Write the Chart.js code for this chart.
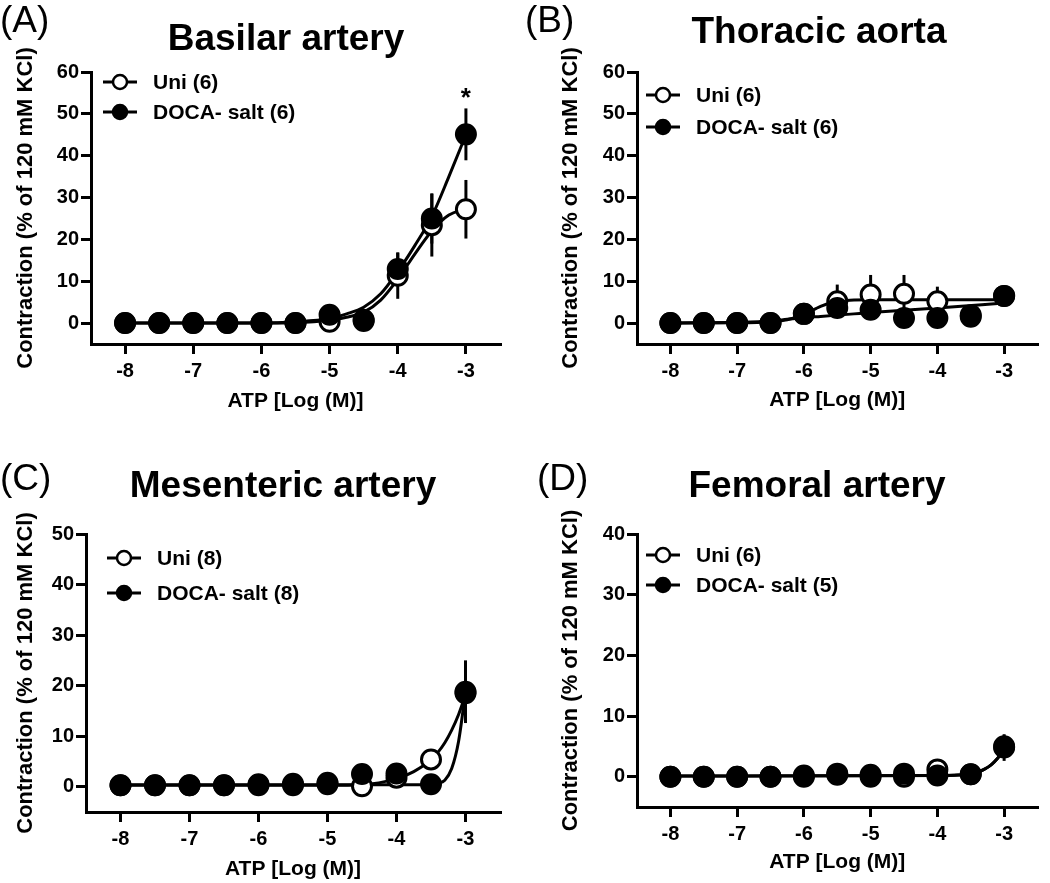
<!DOCTYPE html>
<html>
<head>
<meta charset="utf-8">
<script src="https://cdn.jsdelivr.net/npm/chart.js@4.4.1/dist/chart.umd.min.js"></script>
<style>
  body { margin: 0; background: #fff; }
  #wrap { position: relative; width: 1050px; height: 883px; }
  canvas { position: absolute; }
</style>
</head>
<body>
<div id="wrap">
  <canvas id="cA" width="525" height="430" style="left:0;top:0"></canvas>
  <canvas id="cB" width="525" height="430" style="left:525px;top:0"></canvas>
  <canvas id="cC" width="525" height="453" style="left:0;top:430px"></canvas>
  <canvas id="cD" width="525" height="453" style="left:525px;top:430px"></canvas>
</div>
<script>
// ATP concentrations, log(M)
const doses = [-8, -7.5, -7, -6.5, -6, -5.5, -5, -4.5, -4, -3.5, -3];
const xTicks = [-8, -7, -6, -5, -4, -3];

// (A) Basilar artery
const uniA = [0, 0, 0, 0, 0, 0, 0.3, 0.5, 11.3, 23.4, 27.2];
const uniAErr = [0, 0, 0, 0, 0, 0, 0.5, 0.5, 5.5, 7.5, 7];
const docaA = [0, 0, 0, 0, 0, 0, 2.0, 0.8, 12.9, 25.0, 45.1];
const docaAErr = [0, 0, 0, 0, 0, 0, 0.5, 0.5, 4.0, 6.0, 6.2];
const fitXA = [-8, -6, -5.5, -5, -4.75, -4.5, -4.25, -4, -3.75, -3.5, -3.25, -3];
const fitUniA = [0, 0, 0.1, 0.7, 1.4, 2.6, 5.5, 10.5, 16.5, 22, 25.8, 27.3];
const fitDocaA = [0, 0, 0.3, 1.1, 2.2, 3.8, 7, 12.3, 18.5, 25.5, 35, 45];

// (B) Thoracic aorta
const uniB = [0, 0, 0, 0, 2.2, 5.2, 6.8, 7.0, 5.2, 1.9, 6.5];
const uniBErr = [0, 0, 0, 0, 0.5, 4, 4.7, 4.5, 3.5, 0.5, 1];
const docaB = [0, 0, 0, 0, 2.2, 3.6, 3.2, 1.2, 1.2, 1.5, 6.5];
const docaBErr = [0, 0, 0, 0, 0.5, 2, 1.5, 0.5, 0.5, 0.5, 1.3];
const fitXB = [-8, -7, -6.5, -6.25, -6, -5.75, -5.5, -5.25, -5, -4, -3];
const fitUniB = [0, 0.05, 0.3, 0.8, 2.0, 4.0, 5.2, 5.5, 5.6, 5.6, 5.6];
const fitDocaB = [0, 0.2, 0.5, 0.9, 1.3, 1.6, 1.9, 2.2, 2.5, 3.6, 4.8];

// (C) Mesenteric artery
const uniC = [0.3, 0.3, 0.3, 0.3, 0.3, 0.3, 0.5, 0.1, 1.8, 5.4, 18.5];
const uniCErr = [0, 0, 0, 0, 0, 0, 0, 0.5, 0.5, 1, 5];
const docaC = [0.3, 0.3, 0.3, 0.3, 0.5, 0.6, 0.8, 2.5, 2.6, 0.5, 18.8];
const docaCErr = [0, 0, 0, 0, 0, 0, 0, 0.5, 0.5, 0.3, 6.2];
const fitXC = [-8, -5, -4.5, -4, -3.75, -3.5, -3.4, -3.3, -3.2, -3.1, -3];
const fitUniC = [0.3, 0.3, 0.4, 1.6, 3.0, 5.3, 6.8, 8.7, 11.2, 14.3, 18.2];
const fitDocaC = [0.4, 0.4, 0.4, 0.4, 0.4, 0.5, 0.7, 1.3, 3.6, 9, 18.8];

// (D) Femoral artery
const uniD = [0, 0, 0, 0, 0, 0.5, 0, 0, 1.2, 0.4, 4.8];
const uniDErr = [0, 0, 0, 0, 0, 0, 0, 0, 0.3, 0, 2.2];
const docaD = [0, 0, 0, 0, 0.2, 0.3, 0.3, 0.5, 0.2, 0.4, 5.0];
const docaDErr = [0, 0, 0, 0, 0, 0, 0, 0, 0, 0, 1.8];
const fitXD = [-8, -4, -3.75, -3.5, -3.4, -3.3, -3.2, -3.1, -3];
const fitUniD = [0.1, 0.2, 0.25, 0.4, 0.7, 1.2, 1.9, 3.0, 4.3];
const fitDocaD = [0.1, 0.2, 0.25, 0.4, 0.7, 1.2, 1.9, 3.0, 4.5];

const FONT = '"Liberation Sans", Arial, sans-serif';
Chart.defaults.font.family = FONT;
Chart.defaults.color = '#000';

const panels = [
  { id: 'cA', letter: '(A)', title: 'Basilar artery', yMax: 60, yTicks: [0, 10, 20, 30, 40, 50, 60],
    uni: uniA, uniErr: uniAErr, doca: docaA, docaErr: docaAErr, fitX: fitXA, fitUni: fitUniA, fitDoca: fitDocaA,
    labels: ['Uni (6)', 'DOCA- salt (6)'], star: 53.5,
    area: { left: 91, right: 500, top: 72, bottom: 344 }, yTitlePad: 14, xTitlePad: 16,
    letterPos: [0, 32], titlePos: [286, 50], legend: { x: 103, rows: [82, 112] } },
  { id: 'cB', letter: '(B)', title: 'Thoracic aorta', yMax: 60, yTicks: [0, 10, 20, 30, 40, 50, 60],
    uni: uniB, uniErr: uniBErr, doca: docaB, docaErr: docaBErr, fitX: fitXB, fitUni: fitUniB, fitDoca: fitDocaB,
    labels: ['Uni (6)', 'DOCA- salt (6)'],
    area: { left: 112, right: 521, top: 72, bottom: 344 }, yTitlePad: 34, xTitlePad: 17,
    letterPos: [0, 32], titlePos: [294, 43], legend: { x: 121, rows: [95, 127] } },
  { id: 'cC', letter: '(C)', title: 'Mesenteric artery', yMax: 50, yTicks: [0, 10, 20, 30, 40, 50],
    uni: uniC, uniErr: uniCErr, doca: docaC, docaErr: docaCErr, fitX: fitXC, fitUni: fitUniC, fitDoca: fitDocaC,
    labels: ['Uni (8)', 'DOCA- salt (8)'],
    area: { left: 86, right: 500, top: 104, bottom: 382 }, yTitlePad: 14, xTitlePad: 1,
    letterPos: [0, 60], titlePos: [283, 67], legend: { x: 107, rows: [128, 163] } },
  { id: 'cD', letter: '(D)', title: 'Femoral artery', yMax: 40, yTicks: [0, 10, 20, 30, 40],
    uni: uniD, uniErr: uniDErr, doca: docaD, docaErr: docaDErr, fitX: fitXD, fitUni: fitUniD, fitDoca: fitDocaD,
    labels: ['Uni (6)', 'DOCA- salt (5)'],
    area: { left: 112, right: 521, top: 104, bottom: 377 }, yTitlePad: 34, xTitlePad: 8,
    letterPos: [12, 60], titlePos: [292, 67], legend: { x: 121, rows: [125, 155] } }
];

// error bars, legend, star, panel letter and title
const decor = {
  id: 'decor',
  beforeDatasetsDraw(chart) {
    const { ctx, scales: { x, y } } = chart;
    ctx.save();
    ctx.strokeStyle = '#000';
    ctx.lineWidth = 3;
    chart.data.datasets.forEach(ds => {
      if (!ds.errors) return;
      ds.data.forEach((pt, i) => {
        const e = ds.errors[i];
        if (!e) return;
        const px = x.getPixelForValue(pt.x);
        ctx.beginPath();
        ctx.moveTo(px, y.getPixelForValue(pt.y - e));
        ctx.lineTo(px, y.getPixelForValue(pt.y + e));
        ctx.stroke();
      });
    });
    ctx.restore();
  },
  afterDraw(chart, args, opts) {
    const p = opts.panel;
    const { ctx, scales: { x, y } } = chart;
    ctx.save();
    ctx.fillStyle = '#000';
    ctx.textBaseline = 'alphabetic';

    ctx.font = '37px ' + FONT;
    ctx.textAlign = 'left';
    ctx.fillText(p.letter, p.letterPos[0], p.letterPos[1]);

    ctx.font = 'bold 37px ' + FONT;
    ctx.textAlign = 'center';
    ctx.fillText(p.title, p.titlePos[0], p.titlePos[1]);

    if (p.star !== undefined) {
      ctx.font = 'bold 26px ' + FONT;
      ctx.textBaseline = 'middle';
      ctx.fillText('*', x.getPixelForValue(-3), y.getPixelForValue(p.star));
    }

    // legend
    const lg = p.legend;
    [[p.labels[0], '#fff'], [p.labels[1], '#000']].forEach(([txt, fill], i) => {
      const ly = lg.rows[i];
      ctx.strokeStyle = '#000';
      ctx.lineWidth = 3;
      ctx.beginPath();
      ctx.moveTo(lg.x, ly);
      ctx.lineTo(lg.x + 34, ly);
      ctx.stroke();
      ctx.beginPath();
      ctx.arc(lg.x + 17, ly, 7, 0, Math.PI * 2);
      ctx.fillStyle = fill;
      ctx.fill();
      ctx.lineWidth = 2.5;
      ctx.stroke();
      ctx.fillStyle = '#000';
      ctx.font = 'bold 21px ' + FONT;
      ctx.textAlign = 'left';
      ctx.textBaseline = 'middle';
      ctx.fillText(txt, lg.x + 50, ly + 1);
    });
    ctx.restore();
  }
};

function makePanel(p) {
  const canvas = document.getElementById(p.id);
  const W = canvas.width, H = canvas.height;
  const pts = ys => doses.map((v, i) => ({ x: v, y: ys[i] }));
  const fit = (xs, ys) => xs.map((v, i) => ({ x: v, y: ys[i] }));

  new Chart(canvas, {
    type: 'scatter',
    data: {
      datasets: [
        { label: p.labels[1], data: pts(p.doca), errors: p.docaErr, showLine: false,
          pointRadius: 10, pointBackgroundColor: '#000', pointBorderColor: '#000', pointBorderWidth: 2 },
        { label: p.labels[0], data: pts(p.uni), errors: p.uniErr, showLine: false,
          pointRadius: 9.5, pointBackgroundColor: '#fff', pointBorderColor: '#000', pointBorderWidth: 3 },
        { data: fit(p.fitX, p.fitDoca), showLine: true, pointRadius: 0, borderColor: '#000',
          borderWidth: 3, cubicInterpolationMode: 'monotone' },
        { data: fit(p.fitX, p.fitUni), showLine: true, pointRadius: 0, borderColor: '#000',
          borderWidth: 3, cubicInterpolationMode: 'monotone' }
      ]
    },
    options: {
      responsive: false,
      animation: false,
      events: [],
      layout: { padding: { top: p.area.top, right: W - p.area.right, left: 0, bottom: 0 } },
      plugins: {
        legend: { display: false },
        tooltip: { enabled: false },
        decor: { panel: p }
      },
      scales: {
        x: {
          type: 'linear', min: -8.5, max: -2.5,
          afterBuildTicks: s => { s.ticks = xTicks.map(v => ({ value: v })); },
          afterFit: s => { s.height = H - p.area.bottom; },
          grid: { display: true, drawOnChartArea: false, drawTicks: true, tickLength: 10, lineWidth: 3, color: '#000' },
          border: { display: true, width: 3, color: '#000' },
          ticks: { color: '#000', padding: 5, maxRotation: 0, font: { size: 20, weight: 'bold' }, callback: v => String(v) },
          title: { display: true, text: 'ATP [Log (M)]', color: '#000', font: { size: 21, weight: 'bold' },
                   padding: { top: 0, bottom: p.xTitlePad } }
        },
        y: {
          type: 'linear', min: -5, max: p.yMax,
          afterBuildTicks: s => { s.ticks = p.yTicks.map(v => ({ value: v })); },
          afterFit: s => { s.width = p.area.left; },
          grid: { display: true, drawOnChartArea: false, drawTicks: true, tickLength: 10, lineWidth: 3, color: '#000' },
          border: { display: true, width: 3, color: '#000' },
          ticks: { color: '#000', padding: 2, font: { size: 20, weight: 'bold' }, callback: v => String(v) },
          title: { display: true, text: 'Contraction (% of 120 mM KCl)', color: '#000', font: { size: 22, weight: 'bold' },
                   padding: { top: p.yTitlePad - 1, bottom: 0 } }
        }
      }
    },
    plugins: [decor]
  });
}

panels.forEach(makePanel);
</script>
</body>
</html>
